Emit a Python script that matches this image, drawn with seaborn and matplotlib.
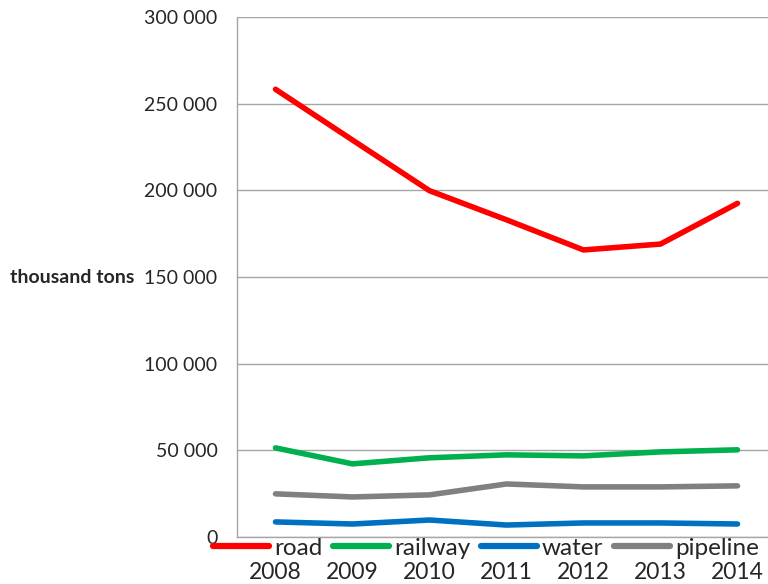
import numpy as np
import pandas as pd
import matplotlib
matplotlib.use("Agg")
import matplotlib.pyplot as plt
from matplotlib.ticker import FuncFormatter
import seaborn as sns

# values (thousand tons)
years = [2008, 2009, 2010, 2011, 2012, 2013, 2014]
road = [258300, 229000, 199800, 183000, 165600, 169000, 192500]
railway = [51400, 42200, 45700, 47400, 46800, 49100, 50300]
water = [8700, 7500, 9800, 6900, 8100, 8100, 7500]
pipeline = [24900, 23100, 24300, 30600, 28900, 28900, 29500]

modes = ["road", "railway", "water", "pipeline"]
colors = {"road": "#FF0000", "railway": "#00B050",
          "water": "#0070C0", "pipeline": "#808080"}

df = pd.concat([
    pd.DataFrame({"year": years, "value": vals, "mode": name})
    for name, vals in zip(modes, [road, railway, water, pipeline])
])

sns.set_style("white")
plt.rcParams["font.family"] = ["Lato", "DejaVu Sans"]

fig = plt.figure(figsize=(7.68, 5.84), dpi=100)
ax = fig.add_axes([237 / 768, 1 - 537 / 584, (776 - 237) / 768, (537 - 17) / 584])

sns.lineplot(data=df, x="year", y="value", hue="mode", hue_order=modes,
             palette=colors, lw=4, legend=False, ax=ax,
             solid_capstyle="round")

ax.set_xlim(2007.5, 2014.5)
ax.set_ylim(0, 300000)
ax.set_yticks(range(0, 300001, 50000))
ax.yaxis.set_major_formatter(FuncFormatter(lambda v, p: f"{int(v):,}".replace(",", " ")))
ax.set_xticks(years)
ax.set_xticklabels([str(y) for y in years])
ax.grid(axis="y", color="#A6A6A6", lw=1)
ax.set_axisbelow(True)
ax.tick_params(axis="y", length=0, pad=14, labelsize=14)
ax.tick_params(axis="x", length=0, pad=18, labelsize=16.5)
ax.set_xlabel("")
ax.set_ylabel("")
for side in ["top", "right"]:
    ax.spines[side].set_visible(False)
for side in ["left", "bottom"]:
    ax.spines[side].set_color("#A6A6A6")
    ax.spines[side].set_linewidth(1)

fig.text(10 / 768, 1 - 277 / 584, "thousand tons", fontsize=14,
         fontweight="bold", ha="left", va="center")

leg = ax.legend(ax.lines[:4], modes, loc="center", ncol=4, frameon=False,
                bbox_to_anchor=(486 / 768, 1 - 548 / 584),
                bbox_transform=fig.transFigure, fontsize=17.5,
                handlelength=2.3, handletextpad=0.2, columnspacing=0.45,
                borderpad=0, borderaxespad=0)
for h in leg.get_lines():
    h.set_linewidth(4.5)
    h.set_solid_capstyle("round")

fig.savefig("out.png", dpi=100)
